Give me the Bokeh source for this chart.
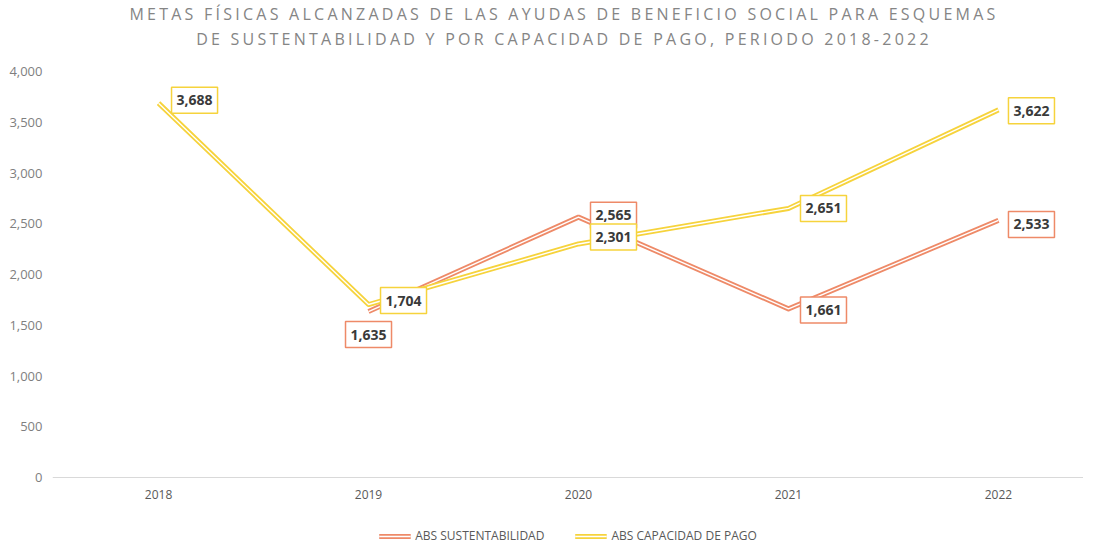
import math
from bokeh.plotting import figure
from bokeh.models import Range1d, Label, Legend, LegendItem, Div, FixedTicker, NumeralTickFormatter
from bokeh.layouts import column
from bokeh.embed import file_html
from bokeh.resources import INLINE

# ---- data ----
years = [2018, 2019, 2020, 2021, 2022]
sustentabilidad = [float("nan"), 1635, 2565, 1661, 2533]
capacidad = [3688, 1704, 2301, 2651, 3622]
y_ticks = [0, 500, 1000, 1500, 2000, 2500, 3000, 3500, 4000]
series_names = ["ABS SUSTENTABILIDAD", "ABS CAPACIDAD DE PAGO"]
title_line1 = "METAS FÍSICAS ALCANZADAS DE LAS AYUDAS DE BENEFICIO SOCIAL PARA ESQUEMAS"
title_line2 = "DE SUSTENTABILIDAD Y POR CAPACIDAD DE PAGO, PERIODO 2018-2022"

# ---- styles ----
ORANGE = "#EE8A68"
YELLOW = "#F6D33C"
# label placement (style): (x_offset, y_offset, align) per point
sus_offsets = [None, (0, -23, "center"), (12, 2, "left"), (12, -1, "left"), (10, -4, "left")]
cap_offsets = [(13, 3, "left"), (12, 4, "left"), (12, 7, "left"), (12, 0, "left"), (10, -1, "left")]

W = 1077
title = Div(
    text=(
        '<div style="width:%dpx;text-align:center;font-family:\'Open Sans\';font-size:16px;'
        'letter-spacing:3.25px;color:#858585;line-height:25px;margin-top:-3px;padding-left:41px;">'
        '%s<br>%s</div>' % (W, title_line1, title_line2)
    ),
    width=W, height=45,
)

# frame extends below the zero line to hold the legend
p = figure(
    frame_width=1031, frame_height=477,
    x_range=Range1d(2017.495, 2022.405), y_range=Range1d(-699.5, 4000),
    output_backend="svg", toolbar_location=None,
    min_border_left=0, min_border_right=0, min_border_top=16, min_border_bottom=0,
)
p.margin = (0, 0, 0, 6)
p.outline_line_color = None
p.grid.grid_line_color = None
p.background_fill_color = "white"

p.yaxis.ticker = FixedTicker(ticks=y_ticks)
p.yaxis.formatter = NumeralTickFormatter(format="0,0")
p.yaxis.axis_line_color = None
p.yaxis.major_tick_line_color = None
p.yaxis.minor_tick_line_color = None
p.yaxis.major_tick_out = 0
p.yaxis.major_label_standoff = 10
p.yaxis.major_label_text_font = "Open Sans"
p.yaxis.major_label_text_font_size = "13px"
p.yaxis.major_label_text_color = "#7f7f7f"

p.xaxis.ticker = FixedTicker(ticks=years)
p.xaxis.fixed_location = 0
p.xaxis.major_label_overrides = {y: str(y) for y in years}
p.xaxis.axis_line_color = "#d9d9d9"
p.xaxis.axis_line_width = 1
p.xaxis.major_tick_line_color = None
p.xaxis.minor_tick_line_color = None
p.xaxis.major_tick_out = 0
p.xaxis.major_label_standoff = 12
p.xaxis.major_label_text_font = "Open Sans"
p.xaxis.major_label_text_font_size = "12px"
p.xaxis.major_label_text_color = "#595959"

items = []
for name, vals, col in [(series_names[0], sustentabilidad, ORANGE), (series_names[1], capacidad, YELLOW)]:
    outer = p.line(years, vals, line_color=col, line_width=5, line_join="round")
    inner = p.line(years, vals, line_color="white", line_width=1.4, line_join="round")
    items.append(LegendItem(label=name, renderers=[outer, inner]))

for vals, offs, col in [(sustentabilidad, sus_offsets, ORANGE), (capacidad, cap_offsets, YELLOW)]:
    for x, v, o in zip(years, vals, offs):
        if v is None or (isinstance(v, float) and math.isnan(v)) or o is None:
            continue
        lab = Label(
            x=x, y=v, x_offset=o[0], y_offset=o[1], text=f"{int(v):,}",
            text_align=o[2], text_baseline="middle",
            text_font="Open Sans", text_font_style="bold", text_font_size="14px",
            text_color="#3a3a3a",
            background_fill_color="white", border_line_color=col, border_line_width=1.5,
            padding=(5, 8),
        )
        p.add_layout(lab)

legend = Legend(
    items=items, orientation="horizontal", location="bottom_center",
    glyph_width=32, glyph_height=14, spacing=30, label_standoff=5,
    label_text_font="Open Sans", label_text_font_size="12px", label_text_color="#595959",
    border_line_color=None, background_fill_alpha=0, margin=4, padding=0,
    label_height=14,
)
p.add_layout(legend, "center")

layout = column(title, p, spacing=0)
open("out.html", "w").write(file_html(layout, INLINE))
